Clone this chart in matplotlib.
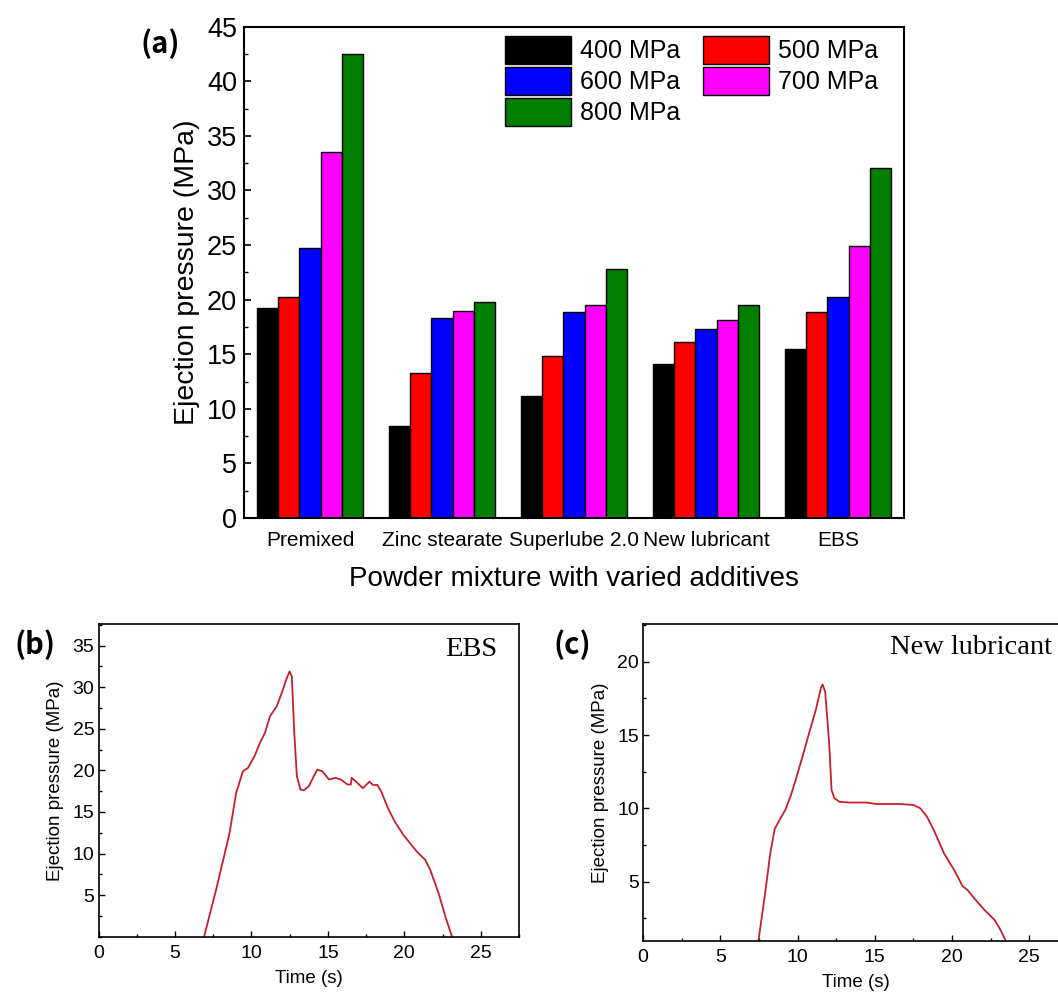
import numpy as np
import matplotlib
matplotlib.use("Agg")
import matplotlib.pyplot as plt
from matplotlib.patches import Patch
from matplotlib.ticker import MultipleLocator

plt.rcParams['font.family'] = ['Liberation Sans', 'DejaVu Sans']

# ejection pressure for each additive at each compaction pressure
additives = ['Premixed', 'Zinc stearate', 'Superlube 2.0', 'New lubricant', 'EBS']
compaction = ['400 MPa', '500 MPa', '600 MPa', '700 MPa', '800 MPa']
p400 = [19.2, 8.45, 11.2, 14.1, 15.5]
p500 = [20.2, 13.3, 14.8, 16.1, 18.85]
p600 = [24.75, 18.35, 18.85, 17.35, 20.25]
p700 = [33.55, 19.0, 19.55, 18.1, 24.95]
p800 = [42.5, 19.8, 22.8, 19.5, 32.05]
bar_colors = ['#000000', '#ff0000', '#0000ff', '#ff00ff', '#007f00']

# ejection curve, EBS
ebs_t = [6.9, 7.68, 8.56, 9.0, 9.44, 9.77, 10.2, 10.55, 10.88, 11.21, 11.65,
         11.98, 12.31, 12.49, 12.64, 12.8, 12.97, 13.2, 13.42, 13.75, 14.08,
         14.3, 14.63, 15.07, 15.5, 15.84, 16.28, 16.5, 16.55, 16.84, 17.28,
         17.72, 17.94, 18.23, 18.49, 18.93, 19.37, 19.93, 20.37, 20.81, 21.36,
         21.69, 22.24, 22.68, 23.12]
ebs_p = [0.0, 5.6, 12.4, 17.3, 19.9, 20.3, 21.7, 23.3, 24.5, 26.5, 27.7,
         29.3, 31.1, 31.9, 31.3, 24.5, 19.3, 17.7, 17.6, 18.1, 19.3,
         20.1, 19.9, 18.9, 19.1, 18.9, 18.3, 18.3, 19.1, 18.65, 17.85,
         18.65, 18.25, 18.25, 17.45, 15.45, 13.85, 12.25, 11.25, 10.25, 9.25,
         8.05, 5.24, 2.44, 0.0]

# ejection curve, new lubricant
new_t = [7.35, 7.47, 7.9, 8.23, 8.52, 8.78, 9.21, 9.54, 9.87, 10.31, 10.74,
         11.18, 11.51, 11.62, 11.79, 12.05, 12.2, 12.38, 12.71, 13.36, 14.45,
         15.1, 16.64, 17.5, 17.95, 18.38, 18.82, 19.48, 20.13, 20.68, 21.0,
         21.44, 22.1, 22.75, 23.08, 23.47, 23.7]
new_p = [0.5, 0.98, 4.2, 6.9, 8.6, 9.1, 9.9, 10.8, 11.9, 13.5, 15.1,
         16.7, 18.2, 18.45, 17.95, 14.4, 11.25, 10.7, 10.45, 10.4, 10.4,
         10.3, 10.3, 10.23, 10.0, 9.43, 8.52, 6.93, 5.8, 4.7, 4.43,
         3.86, 3.07, 2.39, 1.82, 0.98, 0.5]

W, H = 1058, 992
fig = plt.figure(figsize=(W / 100, H / 100), dpi=100)
tag_font = ['Noto Sans CJK SC', 'DejaVu Sans']


def box(l, r, t, b):
    return [l / W, 1 - b / H, (r - l) / W, (b - t) / H]


# ---- (a) grouped bars ----
ax = fig.add_axes(box(244, 904, 26.7, 518))
x = np.arange(len(additives))
bw = 0.162
series = [p400, p500, p600, p700, p800]
handles = []
for i, vals in enumerate(series):
    ax.bar(x + (i - 2) * bw, vals, bw, color=bar_colors[i],
           edgecolor='black', linewidth=1.0)
    handles.append(Patch(facecolor=bar_colors[i], edgecolor='black',
                         linewidth=1.0, label=compaction[i]))
ax.set_xlim(-0.5, 4.5)
ax.set_ylim(0, 45)
ax.set_xticks(x)
ax.set_xticklabels(additives, fontsize=15)
ax.tick_params(axis='x', length=0, pad=9)
ax.yaxis.set_major_locator(MultipleLocator(5))
ax.yaxis.set_minor_locator(MultipleLocator(2.5))
ax.tick_params(axis='y', which='both', direction='in', labelsize=19.5, pad=5)
ax.tick_params(axis='y', which='major', length=5, width=1.2)
ax.tick_params(axis='y', which='minor', length=3, width=1.0)
for s in ax.spines.values():
    s.set_linewidth(1.5)
ax.set_ylabel('Ejection pressure (MPa)', fontsize=20.5, labelpad=5)
ax.set_xlabel('Powder mixture with varied additives', fontsize=20, labelpad=12)
order = [0, 2, 4, 1, 3]
ax.legend([handles[k] for k in order], [compaction[k] for k in order],
          ncol=2, loc='upper left', bbox_to_anchor=(0.395, 0.981),
          frameon=False, fontsize=18, borderpad=0, borderaxespad=0,
          handlelength=2.64, handleheight=1.32, handletextpad=0.36,
          labelspacing=0.14, columnspacing=0.92)
fig.text(160 / W, 1 - 44 / H, '(a)', fontsize=21, fontweight='bold',
         family=tag_font, ha='center', va='center')


# ---- (b), (c) ejection curves ----
def curve_panel(rect, t, p, ylim, yticks, tag, tag_xy, name, name_xy):
    a = fig.add_axes(rect)
    a.plot(t, p, color='#c8202a', linewidth=1.3)
    a.set_xlim(0, 27.5)
    a.set_ylim(*ylim)
    a.set_xticks([0, 5, 10, 15, 20, 25])
    a.set_yticks(yticks)
    a.xaxis.set_minor_locator(MultipleLocator(2.5))
    a.yaxis.set_minor_locator(MultipleLocator(2.5))
    a.tick_params(which='both', direction='in', labelsize=14)
    a.tick_params(which='major', length=4, width=1.0)
    a.tick_params(which='minor', length=2.5, width=1.0)
    a.tick_params(axis='x', pad=6)
    a.tick_params(axis='y', pad=3)
    for s in a.spines.values():
        s.set_linewidth(1.2)
    a.set_xlabel('Time (s)', fontsize=13.5, labelpad=6)
    a.set_ylabel('Ejection pressure (MPa)', fontsize=13.5, labelpad=6)
    fig.text(tag_xy[0] / W, 1 - tag_xy[1] / H, tag, fontsize=21,
             fontweight='bold', family=tag_font, ha='center', va='center')
    fig.text(name_xy[0] / W, 1 - name_xy[1] / H, name, fontsize=20.5,
             family=['Liberation Serif', 'DejaVu Serif'],
             ha='left', va='center')
    return a


curve_panel(box(98.6, 519, 624, 936.7), ebs_t, ebs_p, (0, 37.6),
            [5, 10, 15, 20, 25, 30, 35], '(b)', (35, 645), 'EBS', (445, 650))
curve_panel(box(643, 1068, 624, 940.7), new_t, new_p, (0.98, 22.57),
            [5, 10, 15, 20], '(c)', (572, 645), 'New lubricant', (890, 647))

fig.savefig('out.png', dpi=100)
